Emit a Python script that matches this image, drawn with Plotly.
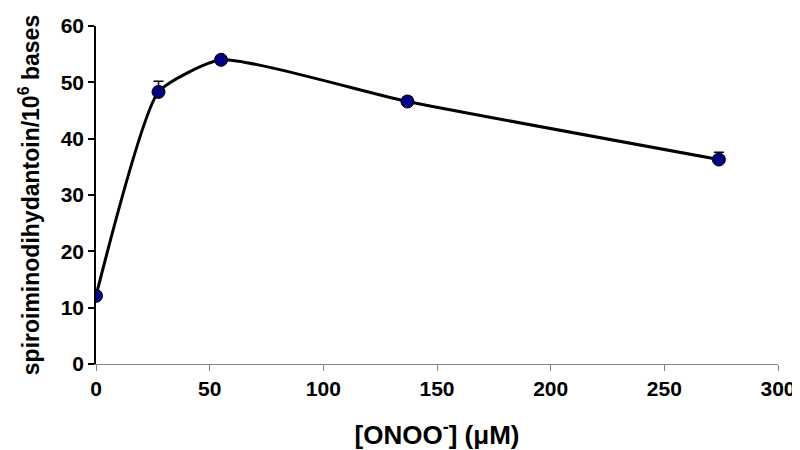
import plotly.graph_objects as go

# Data
onoo_uM = [0, 27.5, 55, 137, 274]
sp_per_1e6 = [12.1, 48.3, 54.0, 46.6, 36.3]
err_up = [0.0, 1.9, 0.5, 0.8, 1.3]

x_ticks = [0, 50, 100, 150, 200, 250, 300]
y_ticks = [0, 10, 20, 30, 40, 50, 60]

FONT = "Liberation Sans, Arial, sans-serif"

fig = go.Figure()

fig.add_trace(go.Scatter(
    x=onoo_uM, y=sp_per_1e6,
    mode="lines",
    line=dict(color="black", width=3, shape="spline", smoothing=0.5),
    hoverinfo="skip",
    showlegend=False,
))

fig.add_trace(go.Scatter(
    x=onoo_uM, y=sp_per_1e6,
    mode="markers",
    marker=dict(color="#000080", size=13, line=dict(color="black", width=1)),
    error_y=dict(type="data", symmetric=False, array=err_up,
                 arrayminus=[0] * len(err_up), color="black",
                 thickness=1.5, width=5),
    showlegend=False,
))

# page body has an 8px margin, so the figure is sized to fit inside 800x450
fig.update_layout(
    width=792, height=442,
    margin=dict(l=88, r=22, t=18, b=86),
    paper_bgcolor="white", plot_bgcolor="white",
    font=dict(family=FONT, color="black"),
)

fig.update_xaxes(
    range=[0, 300], tickvals=x_ticks, ticktext=[str(v) for v in x_ticks],
    showgrid=False, zeroline=False, automargin=False,
    ticklabeloverflow="allow",
    showline=True, linecolor="#808080", linewidth=1,
    ticks="outside", ticklen=6, tickcolor="#808080", tickwidth=1,
    tickfont=dict(family=FONT, size=21, weight="bold", color="black"),
    title=dict(text="[ONOO<sup>-</sup>] (μM)",
               font=dict(family=FONT, size=26, weight="bold", color="black"),
               standoff=34),
)

fig.update_yaxes(
    range=[0, 60], tickvals=y_ticks, ticktext=[str(v) for v in y_ticks],
    showgrid=False, zeroline=False, automargin=False,
    ticklabeloverflow="allow",
    showline=True, linecolor="black", linewidth=1.5,
    ticks="outside", ticklen=6, tickcolor="black", tickwidth=1.5,
    tickfont=dict(family=FONT, size=21, weight="bold", color="black"),
    title=dict(text="spiroiminodihydantoin/10<sup>6</sup> bases",
               font=dict(family=FONT, size=23, weight="bold", color="black"),
               standoff=15),
)

fig.write_html("out.html")
